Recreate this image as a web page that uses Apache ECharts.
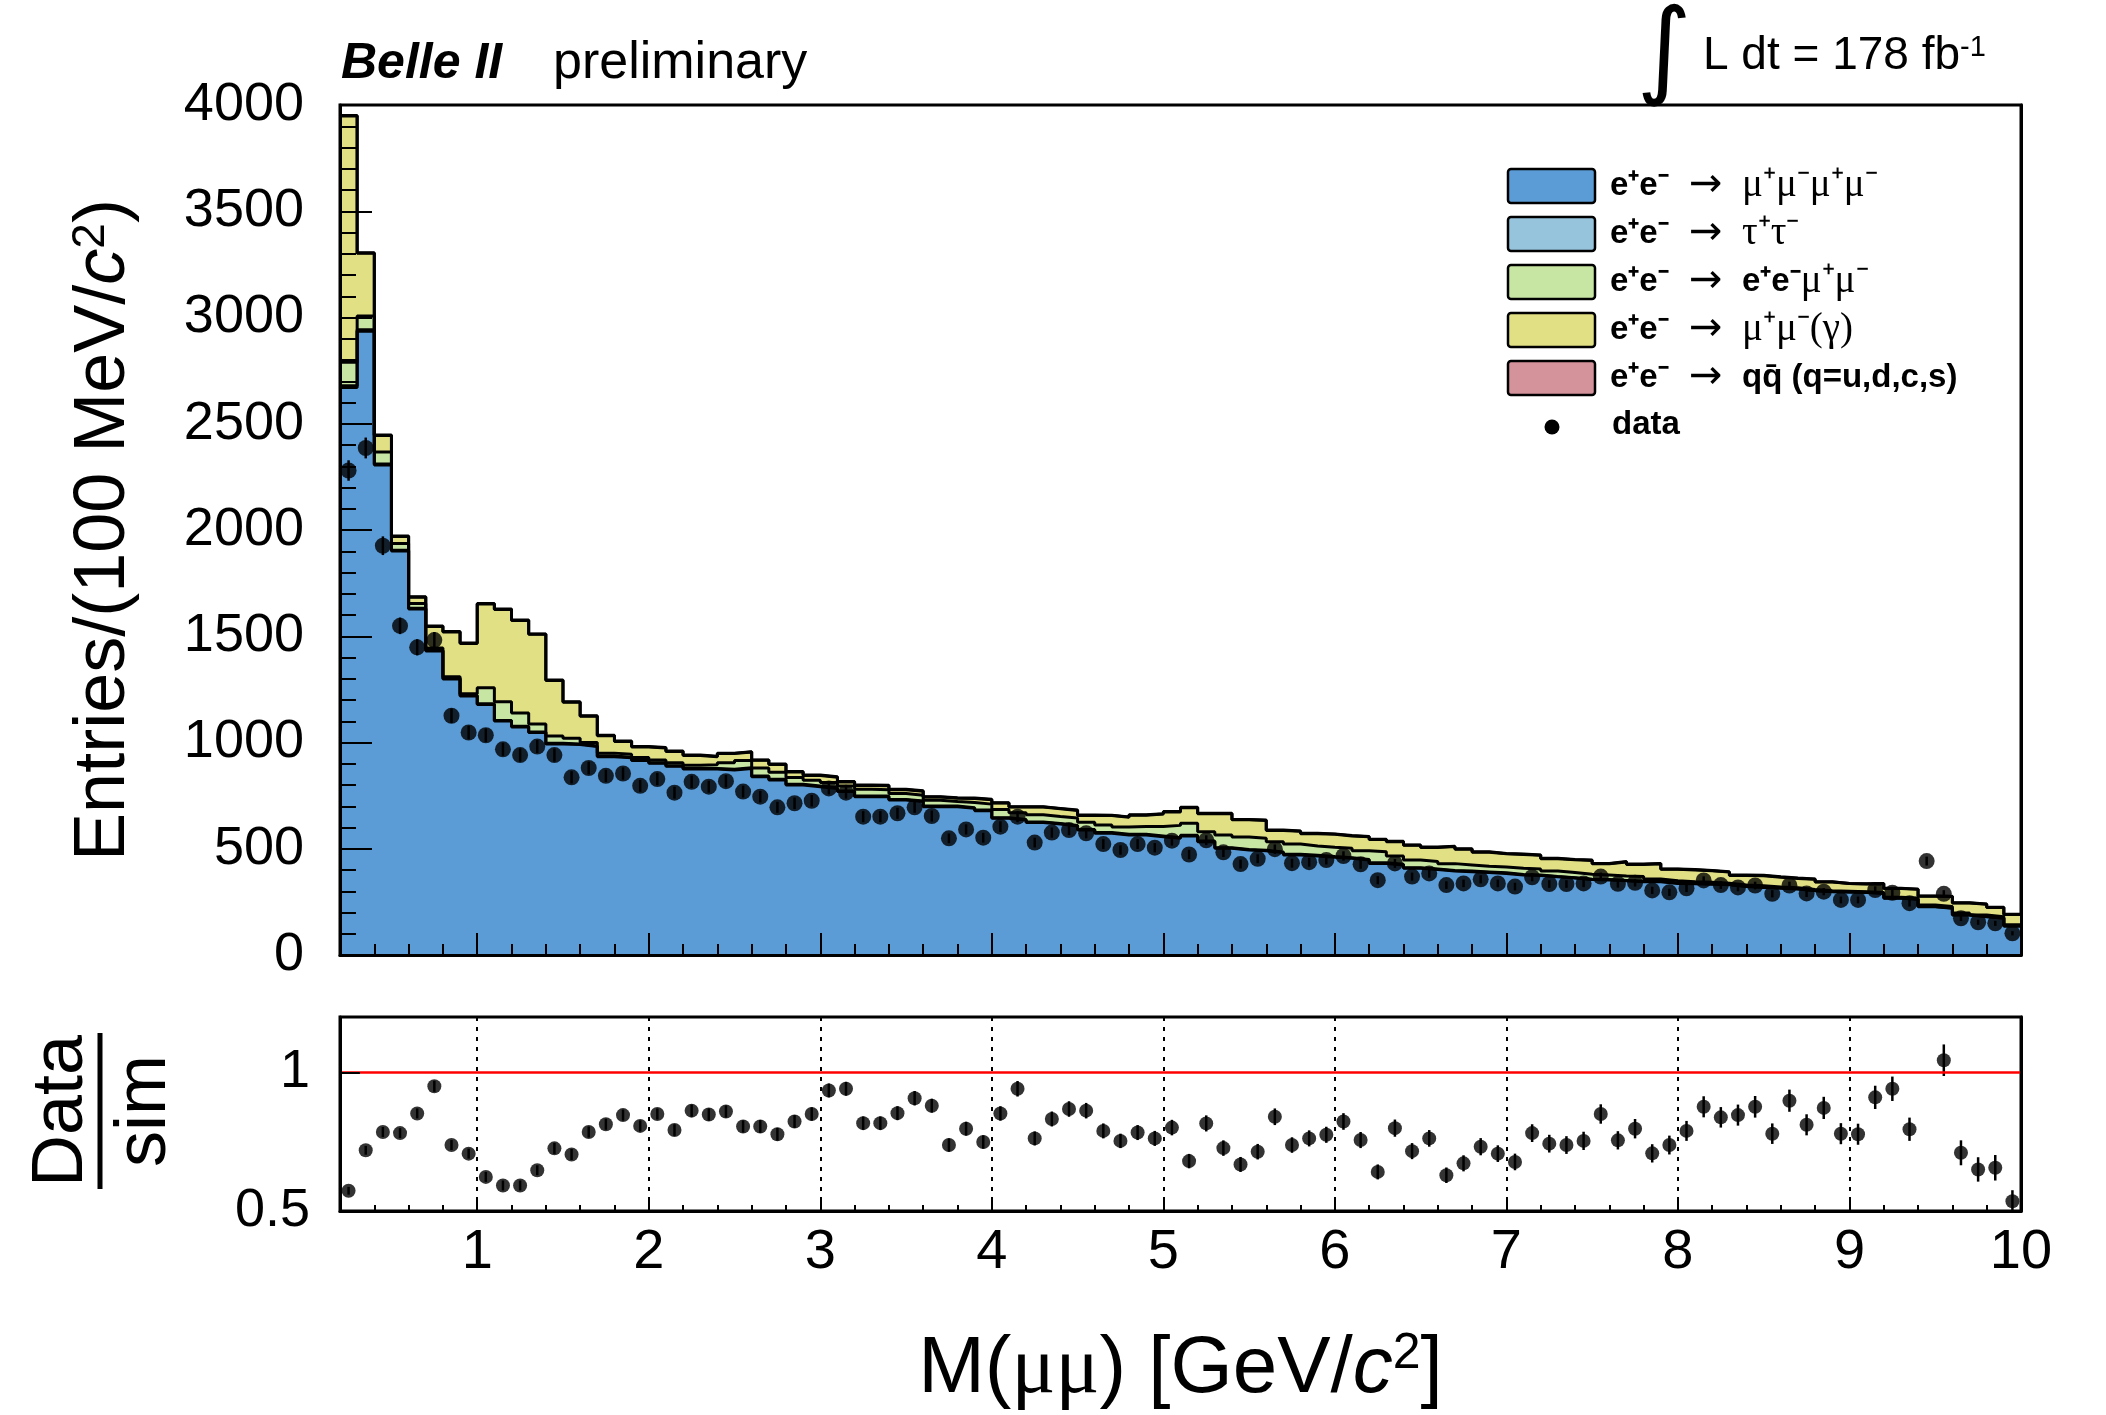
<!DOCTYPE html>
<html>
<head>
<meta charset="utf-8">
<title>Belle II M(μμ)</title>
<script src="https://cdn.jsdelivr.net/npm/echarts@6/dist/echarts.min.js"></script>
<style>
html,body{margin:0;padding:0;background:#ffffff;}
#chart{width:2106px;height:1415px;}
</style>
</head>
<body>
<div id="chart"></div>
<script>
// ---------- data (0.1 GeV bins from 0.2 to 10 GeV) ----------
const binEdges = Array.from({length: 99}, (_, i) => (2 + i) / 10);

const xMajorTicks = [1, 2, 3, 4, 5, 6, 7, 8, 9, 10];
const ratioTicks = [0.5, 1];
const ratioGridLines = [1, 2, 3, 4, 5, 6, 7, 8, 9];

const mumumumu = [
  2671,2935,2306,1901,1628,1431,1299,1219,1179,1101,
  1073,1047,993,990,981,933,928,915,902,888,
  875,875,871,878,839,824,800,792,784,769,
  745,745,729,722,698,698,690,679,643,635,
  623,616,607,588,573,565,565,557,549,560,
  533,502,494,490,482,471,466,460,455,447,
  431,424,408,402,395,392,388,384,376,374,
  368,362,355,353,349,345,345,337,335,333,
  330,322,318,314,310,302,298,296,294,290,
  267,262,227,220,188,180,173,136
];
const tautau = [
  8,7,5,4,4,3,3,3,3,3,
  3,3,3,3,3,3,3,3,3,3,
  3,3,3,3,3,3,3,3,3,3,
  3,3,3,3,3,3,3,3,3,3,
  3,3,3,3,3,3,3,3,3,3,
  3,3,3,3,3,3,3,3,3,3,
  3,3,3,3,3,3,3,3,3,3,
  2,2,2,2,2,2,2,2,2,2,
  2,2,2,2,2,2,1,1,1,1,
  1,1,1,1,1,1,1,1
];
const eemumu = [
  111,65,56,32,22,11,8,8,76,88,
  63,37,35,27,16,14,14,12,13,14,
  15,17,31,34,38,33,32,27,25,23,
  32,30,28,27,27,21,25,28,39,32,
  34,33,35,34,36,34,37,45,58,57,
  44,60,58,56,48,48,44,44,44,41,
  52,39,36,35,32,29,27,27,29,28,
  25,24,23,21,21,22,11,11,8,7,
  6,6,6,4,4,4,3,3,3,3,
  4,5,7,7,9,7,6,5
];
const mumugamma = [
  1158,295,78,33,30,101,210,236,394,434,
  435,422,261,170,124,82,60,49,56,53,
  46,38,43,40,36,37,26,23,25,19,
  18,19,18,19,15,16,19,21,30,26,
  36,36,35,32,44,46,53,58,63,73,
  85,100,81,84,53,60,58,61,58,65,
  57,67,69,66,80,74,66,62,65,64,
  58,60,65,53,66,57,71,53,55,54,
  52,44,47,46,44,48,42,36,36,41,
  41,41,42,47,47,51,44,49
];
const qqbar = [
  3,3,2,2,2,2,2,2,2,2,
  2,2,2,2,2,2,2,2,2,2,
  2,2,2,2,2,2,2,2,2,2,
  2,2,2,2,2,2,2,2,2,2,
  2,2,2,2,2,2,2,2,2,2,
  2,2,2,2,2,2,2,2,2,2,
  2,2,2,2,2,2,2,2,2,2,
  2,2,2,2,2,2,2,2,2,2,
  2,2,2,2,2,2,1,1,1,1,
  1,1,1,1,1,1,1,1
];
const dataCounts = [
  2280,2386,1926,1549,1448,1482,1126,1047,1034,968,
  941,981,941,836,880,843,854,796,828,764,
  815,792,818,769,745,695,714,726,784,764,
  651,651,667,695,654,549,591,552,604,651,
  529,576,588,573,522,494,522,505,538,473,
  540,483,428,453,498,432,437,447,466,427,
  352,431,369,384,329,337,356,337,322,366,
  334,334,337,369,335,340,304,295,314,351,
  329,318,327,288,327,290,298,259,259,306,
  293,244,442,288,173,154,149,102
];
const dataErr = [
  48,49,44,39,38,38,34,32,32,31,
  31,31,31,29,30,29,29,28,29,28,
  29,28,29,28,27,26,27,27,28,28,
  26,26,26,26,26,23,24,23,25,26,
  23,24,24,24,23,22,23,22,23,22,
  23,22,21,21,22,21,21,21,22,21,
  19,21,19,20,18,18,19,18,18,19,
  18,18,18,19,18,18,17,17,18,19,
  18,18,18,17,18,17,17,16,16,17,
  17,16,21,17,13,12,12,10
];
const ratioValues = [
  0.573,0.719,0.785,0.781,0.852,0.950,0.738,0.707,0.623,0.592,
  0.592,0.647,0.726,0.704,0.785,0.813,0.846,0.807,0.850,0.792,
  0.862,0.848,0.859,0.805,0.805,0.777,0.823,0.850,0.935,0.941,
  0.817,0.817,0.853,0.907,0.880,0.738,0.797,0.749,0.852,0.941,
  0.762,0.832,0.868,0.862,0.789,0.753,0.783,0.762,0.801,0.680,
  0.816,0.727,0.668,0.714,0.840,0.738,0.762,0.775,0.823,0.756,
  0.641,0.799,0.716,0.762,0.629,0.672,0.732,0.707,0.677,0.781,
  0.743,0.738,0.753,0.850,0.755,0.797,0.708,0.738,0.789,0.876,
  0.838,0.846,0.876,0.779,0.898,0.811,0.872,0.779,0.777,0.910,
  0.941,0.795,1.590,1.044,0.710,0.650,0.656,0.535
];
const ratioErr = [
  0.014,0.016,0.018,0.018,0.018,0.020,0.018,0.018,0.018,0.018,
  0.018,0.018,0.020,0.020,0.020,0.020,0.020,0.020,0.020,0.021,
  0.022,0.022,0.022,0.022,0.023,0.023,0.023,0.024,0.025,0.025,
  0.024,0.024,0.025,0.026,0.025,0.024,0.025,0.024,0.026,0.028,
  0.025,0.027,0.028,0.028,0.027,0.026,0.027,0.027,0.028,0.026,
  0.029,0.028,0.027,0.028,0.030,0.028,0.029,0.029,0.030,0.029,
  0.027,0.031,0.029,0.030,0.028,0.029,0.031,0.030,0.030,0.032,
  0.032,0.032,0.033,0.035,0.033,0.035,0.033,0.034,0.036,0.038,
  0.037,0.038,0.039,0.037,0.040,0.038,0.040,0.038,0.038,0.042,
  0.044,0.042,0.070,0.057,0.045,0.044,0.046,0.040
];

// ---------- style ----------
const SANS = '"Liberation Sans", Arial, Helvetica, sans-serif';
const SERIF = '"Liberation Serif", "Times New Roman", serif';
const COL = {
  mumumumu: '#5b9bd6',
  tautau: '#96c4dd',
  eemumu: '#c8e6a3',
  mumugamma: '#e1e085',
  qqbar: '#d4929b'
};

const binCenters = binEdges.slice(0, -1).map((e, i) => (e + binEdges[i + 1]) / 2);

// stack layers (bottom -> top); cumulative tops built from the arrays above
const layers = [
  {name: 'e⁺e⁻ → μ⁺μ⁻μ⁺μ⁻', vals: mumumumu, color: COL.mumumumu},
  {name: 'e⁺e⁻ → τ⁺τ⁻', vals: tautau, color: COL.tautau},
  {name: 'e⁺e⁻ → e⁺e⁻μ⁺μ⁻', vals: eemumu, color: COL.eemumu},
  {name: 'e⁺e⁻ → μ⁺μ⁻(γ)', vals: mumugamma, color: COL.mumugamma},
  {name: 'e⁺e⁻ → qq̄ (q=u,d,c,s)', vals: qqbar, color: COL.qqbar}
];
const cumulative = [];
layers.forEach((l, j) => {
  cumulative.push(l.vals.map((v, k) => v + (j > 0 ? cumulative[j - 1][k] : 0)));
});

function stepData(vals) {
  const d = vals.map((v, i) => [binEdges[i], v]);
  d.push([binEdges[binEdges.length - 1], vals[vals.length - 1]]);
  return d;
}

function histSeries(name, vals, color) {
  return {
    name: name, type: 'line', xAxisIndex: 0, yAxisIndex: 0,
    step: 'end', symbol: 'none', showSymbol: false,
    data: stepData(vals),
    lineStyle: {color: '#000', width: 3},
    areaStyle: {color: color, opacity: 1, origin: 'start'},
    z: 2
  };
}

function errorBars(xIdx, yIdx, xs, ys, es, width) {
  return {
    type: 'custom', xAxisIndex: xIdx, yAxisIndex: yIdx,
    data: xs.map((x, i) => [x, ys[i], es[i]]),
    encode: {x: 0, y: 1},
    z: 4,
    renderItem: function (params, api) {
      const x = api.value(0), y = api.value(1), e = api.value(2);
      const a = api.coord([x, y - e]);
      const b = api.coord([x, y + e]);
      const cs = params.coordSys;
      let y1 = Math.min(a[1], b[1]);
      let y2 = Math.max(a[1], b[1]);
      y1 = Math.max(y1, cs.y);
      y2 = Math.min(y2, cs.y + cs.height);
      if (y1 >= y2) return null;
      return {type: 'line', shape: {x1: a[0], y1: y1, x2: a[0], y2: y2},
              style: {stroke: '#000', lineWidth: width}};
    }
  };
}

const yLabelStyle = {color: '#000', fontFamily: SANS, fontSize: 54};
const xLabelStyle = {color: '#000', fontFamily: SANS, fontSize: 56};

// draw the full stack first, then each lower layer on top of it (ROOT THStack style)
const stackSeriesList = [];
for (let j = layers.length - 1; j >= 0; j--) {
  stackSeriesList.push(histSeries(layers[j].name, cumulative[j], layers[j].color));
}

const option = {
  animation: false,
  backgroundColor: '#ffffff',
  grid: [
    {left: 340, right: 85, top: 105, height: 850, show: true, borderColor: '#000', borderWidth: 3, backgroundColor: 'rgba(0,0,0,0)'},
    {left: 340, right: 85, top: 1017, height: 194, show: true, borderColor: '#000', borderWidth: 3, backgroundColor: 'rgba(0,0,0,0)'}
  ],
  xAxis: [
    {gridIndex: 0, type: 'value', min: 0.2, max: 10, interval: 0.2, position: 'bottom', z: 10,
     axisLine: {show: true, onZero: false, lineStyle: {color: '#000', width: 3}},
     axisTick: {show: true, inside: true, length: 11, lineStyle: {color: '#000', width: 2}},
     axisLabel: {show: false}, splitLine: {show: false}},
    {gridIndex: 0, type: 'value', min: 0.2, max: 10, position: 'bottom', z: 10,
     axisLine: {show: false},
     axisTick: {show: true, inside: true, length: 22, customValues: xMajorTicks, lineStyle: {color: '#000', width: 2}},
     axisLabel: {show: false, customValues: xMajorTicks}, splitLine: {show: false}},
    {gridIndex: 1, type: 'value', min: 0.2, max: 10, interval: 0.2, position: 'bottom', z: 10,
     axisLine: {show: true, onZero: false, lineStyle: {color: '#000', width: 3}},
     axisTick: {show: true, inside: true, length: 6, lineStyle: {color: '#000', width: 2}},
     axisLabel: {show: false}, splitLine: {show: false}},
    {gridIndex: 1, type: 'value', min: 0.2, max: 10, position: 'bottom', z: 10,
     axisLine: {show: false},
     axisTick: {show: true, inside: true, length: 13, customValues: xMajorTicks, lineStyle: {color: '#000', width: 2}},
     axisLabel: Object.assign({show: true, margin: 14, customValues: xMajorTicks, formatter: v => String(v)}, xLabelStyle),
     splitLine: {show: false},
     name: '{t|M(}{g|μμ}{t|) [GeV/}{i|c}{s|2}{t|]}',
     nameLocation: 'middle', nameGap: 118,
     nameTextStyle: {color: '#000', fontFamily: SANS, fontSize: 80,
       rich: {
         t: {fontFamily: SANS, fontSize: 80, color: '#000'},
         g: {fontFamily: SERIF, fontSize: 82, color: '#000'},
         i: {fontFamily: SANS, fontSize: 80, fontStyle: 'italic', color: '#000'},
         s: {fontFamily: SANS, fontSize: 50, color: '#000', verticalAlign: 'top'}
       }}}
  ],
  yAxis: [
    {gridIndex: 0, type: 'value', min: 0, max: 4000, interval: 500, position: 'left', z: 10,
     axisLine: {show: true, lineStyle: {color: '#000', width: 3}},
     axisTick: {show: true, inside: true, length: 32, lineStyle: {color: '#000', width: 2}},
     minorTick: {show: true, splitNumber: 5, length: 16, lineStyle: {color: '#000', width: 2}},
     axisLabel: Object.assign({margin: 36, formatter: v => String(v)}, yLabelStyle),
     splitLine: {show: false},
     name: '{t|Entries/(100 MeV/}{i|c}{s|2}{t|)}',
     nameLocation: 'middle', nameGap: 200, nameRotate: 90,
     nameTextStyle: {color: '#000', fontFamily: SANS, fontSize: 72,
       rich: {
         t: {fontFamily: SANS, fontSize: 72, color: '#000'},
         i: {fontFamily: SANS, fontSize: 72, fontStyle: 'italic', color: '#000'},
         s: {fontFamily: SANS, fontSize: 46, color: '#000', verticalAlign: 'top'}
       }}},
    {gridIndex: 1, type: 'value', min: 0.5, max: 1.2, interval: 0.5, position: 'left', z: 10,
     axisLine: {show: true, lineStyle: {color: '#000', width: 3}},
     axisTick: {show: true, inside: true, length: 20, customValues: ratioTicks, lineStyle: {color: '#000', width: 2}},
     axisLabel: Object.assign({margin: 30, customValues: ratioTicks, formatter: v => String(v)}, yLabelStyle),
     splitLine: {show: false}},
    {gridIndex: 0, type: 'value', min: 0, max: 4000, position: 'right', z: 10,
     axisLine: {show: true, lineStyle: {color: '#000', width: 3}},
     axisTick: {show: false}, axisLabel: {show: false}, splitLine: {show: false}},
    {gridIndex: 1, type: 'value', min: 0.5, max: 1.2, position: 'right', z: 10,
     axisLine: {show: true, lineStyle: {color: '#000', width: 3}},
     axisTick: {show: false}, axisLabel: {show: false}, splitLine: {show: false}}
  ],
  series: stackSeriesList.concat([
    errorBars(0, 0, binCenters, dataCounts, dataErr, 2.5),
    {name: 'data', type: 'scatter', xAxisIndex: 0, yAxisIndex: 0,
     data: binCenters.map((x, i) => [x, dataCounts[i]]),
     symbol: 'circle', symbolSize: 16, itemStyle: {color: '#000'}, z: 5},
    errorBars(2, 1, binCenters, ratioValues, ratioErr, 2.5),
    {name: 'Data/sim', type: 'scatter', xAxisIndex: 2, yAxisIndex: 1, clip: true,
     data: binCenters.map((x, i) => [x, ratioValues[i]]),
     symbol: 'circle', symbolSize: 14, itemStyle: {color: '#000'}, z: 5,
     markLine: {
       silent: true, symbol: 'none', label: {show: false}, animation: false,
       data: [{yAxis: 1, lineStyle: {color: '#ff0000', width: 2.5, type: 'solid'}}].concat(
         ratioGridLines.map(v => ({xAxis: v, lineStyle: {color: '#000', width: 2, type: [4, 6]}})))
     }}
  ]),
  graphic: [
    {type: 'text', x: 341, y: 64, z: 50,
     style: {text: 'Belle II', fontFamily: SANS, fontSize: 50, fontWeight: 'bold', fontStyle: 'italic', fill: '#000',
             align: 'left', verticalAlign: 'middle', textAlign: 'left', textVerticalAlign: 'middle'}},
    {type: 'text', x: 553, y: 64, z: 50,
     style: {text: 'preliminary', fontFamily: SANS, fontSize: 52, fill: '#000',
             align: 'left', verticalAlign: 'middle', textAlign: 'left', textVerticalAlign: 'middle'}},
    {type: 'text', x: 1664, y: 56, z: 50,
     style: {text: '∫', fontFamily: '"DejaVu Sans", sans-serif', fontSize: 106, fill: '#000',
             align: 'center', verticalAlign: 'middle', textAlign: 'center', textVerticalAlign: 'middle'}},
    {type: 'text', x: 1703, y: 56, z: 50,
     style: {text: '{t|L dt = 178 fb}{s|-1}', fill: '#000',
             align: 'left', verticalAlign: 'middle', textAlign: 'left', textVerticalAlign: 'middle',
             rich: {t: {fontFamily: SANS, fontSize: 46, fill: '#000', color: '#000'},
                    s: {fontFamily: SANS, fontSize: 29, fill: '#000', color: '#000', verticalAlign: 'top'}}}},
    // ratio y title: Data / sim
    {type: 'text', x: 62, y: 1111, rotation: Math.PI / 2, z: 50,
     style: {text: 'Data', fontFamily: SANS, fontSize: 72, fill: '#000',
             align: 'center', verticalAlign: 'middle', textAlign: 'center', textVerticalAlign: 'middle'}},
    {type: 'text', x: 145, y: 1111, rotation: Math.PI / 2, z: 50,
     style: {text: 'sim', fontFamily: SANS, fontSize: 72, fill: '#000',
             align: 'center', verticalAlign: 'middle', textAlign: 'center', textVerticalAlign: 'middle'}},
    {type: 'line', z: 50, shape: {x1: 100, y1: 1033, x2: 100, y2: 1189}, style: {stroke: '#000', lineWidth: 5}}
  ]
};

// ---------- legend (drawn as graphic) ----------
const legendRows = [
  {color: COL.mumumumu, pre: 'e⁺e⁻', rest: '{g|μ⁺μ⁻μ⁺μ⁻}'},
  {color: COL.tautau, pre: 'e⁺e⁻', rest: '{g|τ⁺τ⁻}'},
  {color: COL.eemumu, pre: 'e⁺e⁻', rest: '{b|e⁺e⁻}{g|μ⁺μ⁻}'},
  {color: COL.mumugamma, pre: 'e⁺e⁻', rest: '{g|μ⁺μ⁻(γ)}'},
  {color: COL.qqbar, pre: 'e⁺e⁻', rest: '{b|qq̄ (q=u,d,c,s)}'}
];
const legRich = {
  b: {fontFamily: SANS, fontSize: 33, fontWeight: 'bold', fill: '#000', color: '#000'},
  g: {fontFamily: SERIF, fontSize: 39, fill: '#000', color: '#000'}
};
legendRows.forEach((r, i) => {
  const top = 169 + i * 48;
  option.graphic.push({type: 'rect', z: 50, shape: {x: 1508, y: top, width: 87, height: 34, r: 3},
                       style: {fill: r.color, stroke: '#000', lineWidth: 2.5}});
  option.graphic.push({type: 'text', x: 1610, y: top + 17, z: 50,
                       style: {text: r.pre, fontFamily: SANS, fontSize: 33, fontWeight: 'bold', fill: '#000',
                               align: 'left', verticalAlign: 'middle', textAlign: 'left', textVerticalAlign: 'middle'}});
  option.graphic.push({type: 'text', x: 1689, y: top + 17, z: 50,
                       style: {text: '→', fontFamily: '"DejaVu Sans", sans-serif', fontSize: 40, fill: '#000',
                               align: 'left', verticalAlign: 'middle', textAlign: 'left', textVerticalAlign: 'middle'}});
  option.graphic.push({type: 'text', x: 1742, y: top + 17, z: 50,
                       style: {text: r.rest, rich: legRich, fill: '#000',
                               align: 'left', verticalAlign: 'middle', textAlign: 'left', textVerticalAlign: 'middle'}});
});
option.graphic.push({type: 'circle', z: 50, shape: {cx: 1552, cy: 427, r: 7.5}, style: {fill: '#000'}});
option.graphic.push({type: 'text', x: 1612, y: 425, z: 50,
                     style: {text: 'data', fontFamily: SANS, fontSize: 33, fontWeight: 'bold', fill: '#000',
                             align: 'left', verticalAlign: 'middle', textAlign: 'left', textVerticalAlign: 'middle'}});

const chart = echarts.init(document.getElementById('chart'), null, {renderer: 'canvas'});
chart.setOption(option);
</script>
</body>
</html>
